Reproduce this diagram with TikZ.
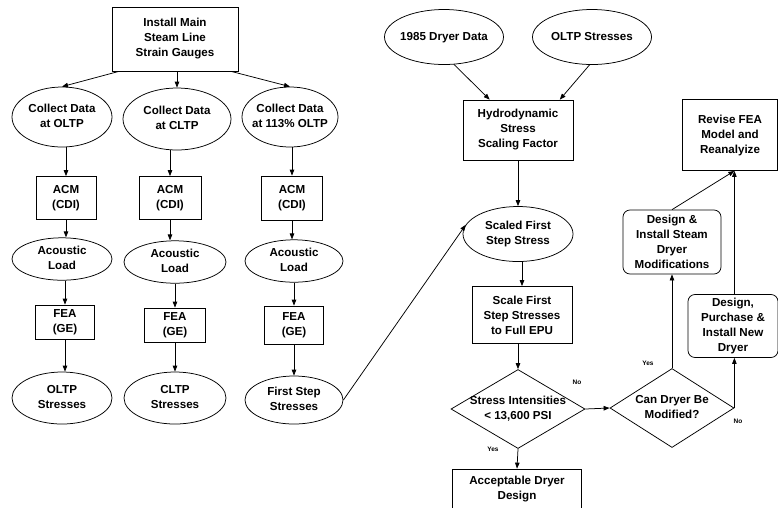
\documentclass[tikz,border=0pt]{standalone}
\usepackage{fontspec}
\setmainfont{Liberation Sans}
\usetikzlibrary{shapes.geometric,arrows.meta}

\newcommand{\flowfont}{\bfseries\fontsize{11.6}{15}\selectfont}
\newcommand{\tagfont}{\bfseries\fontsize{6.5}{7}\selectfont}
% text that may run over the outline
\newcommand{\spill}[1]{\makebox[0pt]{\begin{tabular}{@{}c@{}}#1\end{tabular}}}

\tikzset{
  box/.style={draw, rectangle, inner sep=0pt, align=center, font=\flowfont},
  rbox/.style={box, rounded corners=7pt},
  oval/.style={draw, ellipse, inner sep=0pt, align=center, font=\flowfont},
  decide/.style={draw, diamond, inner sep=0pt, align=center, font=\flowfont},
  flow/.style={-{Triangle[length=6pt,width=4.5pt]}},
  tag/.style={font=\tagfont, inner sep=0pt}
}

\begin{document}
\begin{tikzpicture}
    [x=1pt,y=-1pt,line width=0.75pt]
    \useasboundingbox (0,0) rectangle (778,507);

    % left: three load cases
    \node[box, minimum width=126, minimum height=64] (inst) at (175,39)
        {Install Main\\Steam Line\\Strain Gauges};

    \node[oval, minimum width=100, minimum height=60] (col1) at ( 62,117) {\spill{Collect Data\\at OLTP}};
    \node[oval, minimum width=108, minimum height=62] (col2) at (177,119) {\spill{Collect Data\\at CLTP}};
    \node[oval, minimum width=96,  minimum height=60] (col3) at (290,117) {\spill{Collect Data\\at 113\% OLTP}};

    \node[box, minimum width=60, minimum height=43] (acm1) at ( 66,198) {ACM\\(CDI)};
    \node[box, minimum width=62, minimum height=43] (acm2) at (170,198) {ACM\\(CDI)};
    \node[box, minimum width=61, minimum height=44] (acm3) at (292,198) {ACM\\(CDI)};

    \node[oval, minimum width=100, minimum height=41] (load1) at ( 62,259) {\spill{Acoustic\\Load}};
    \node[oval, minimum width=102, minimum height=41] (load2) at (175,262) {\spill{Acoustic\\Load}};
    \node[oval, minimum width=98,  minimum height=42] (load3) at (294,261) {\spill{Acoustic\\Load}};

    \node[box, minimum width=59, minimum height=34] (fea1) at ( 65,322) {FEA\\(GE)};
    \node[box, minimum width=61, minimum height=34] (fea2) at (175,325) {FEA\\(GE)};
    \node[box, minimum width=59, minimum height=38] (fea3) at (294,325) {FEA\\(GE)};

    \node[oval, minimum width=100, minimum height=52] (res1) at ( 62,398) {\spill{OLTP\\Stresses}};
    \node[oval, minimum width=102, minimum height=52] (res2) at (175,398) {\spill{CLTP\\Stresses}};
    \node[oval, minimum width=98,  minimum height=48] (res3) at (294,400) {\spill{First Step\\Stresses}};

    % right: scaling and evaluation
    \node[oval, minimum width=119, minimum height=55] (dry)  at (444,37) {\spill{1985 Dryer Data}};
    \node[oval, minimum width=119, minimum height=55] (olts) at (592,37) {\spill{OLTP Stresses}};
    \node[box, minimum width=110, minimum height=60] (hydro) at (518,130)
        {Hydrodynamic\\Stress\\Scaling Factor};
    \node[oval, minimum width=110, minimum height=55] (scaled) at (518,234) {\spill{Scaled First\\Step Stress}};
    \node[box, minimum width=100, minimum height=57] (scale) at (522,315)
        {Scale First\\Step Stresses\\to Full EPU};
    \node[decide, minimum width=134, minimum height=79] (stress) at (518,409)
        {\spill{Stress Intensities\\\textless{} 13,600 PSI}};
    \node[box, minimum width=129, minimum height=40] (accept) at (517,489)
        {Acceptable Dryer\\Design};
    \node[decide, minimum width=124, minimum height=79] (can) at (672,408)
        {\spill{Can Dryer Be\\Modified?}};
    \node[rbox, minimum width=98, minimum height=64] (modify) at (672,242)
        {Design \&\\Install Steam\\Dryer\\Modifications};
    \node[rbox, minimum width=90, minimum height=63] (newd) at (733,326)
        {Design,\\Purchase \&\\Install New\\Dryer};
    \node[box, minimum width=95, minimum height=71] (revise) at (730,135)
        {Revise FEA\\Model and\\Reanalyize};

    \coordinate (meet) at (can.east |- revise.south);

    \draw[flow] (inst.-150) -- (col1.north);
    \draw[flow] (inst.south -| col2.north) -- (col2.north);
    \draw[flow] (inst.-30) -- (col3.north);
    \foreach \i in {1,2,3} {
      \draw[flow] (col\i.south -| acm\i.north) -- (acm\i.north);
      \draw[flow] (acm\i.south) -- (acm\i.south |- load\i.north);
      \draw[flow] (load\i.south -| fea\i.north) -- (fea\i.north);
      \draw[flow] (fea\i.south) -- (fea\i.south |- res\i.north);
    }
    \draw[flow] (res3.east) -- (scaled.170);

    \draw[flow] (dry.-70) -- (hydro.133);
    \draw[flow] (olts.-95) -- (hydro.36);
    \draw[flow] (hydro.south) -- (scaled.north);
    \draw[flow] (scaled.south -| scale.north) -- (scale.north);
    \draw[flow] (scale.south -| stress.north) -- (stress.north);
    \draw[flow] (stress.south) -- (accept.north);
    \draw[flow] (stress.east) -- (can.west);
    \draw[flow] (can.north) -- (modify.south);
    \draw[flow] (can.east) -- (can.east |- newd.south);
    \draw[flow] (can.east |- newd.north) -- (meet);
    \draw[flow] (modify.north) -- (meet);

    \node[tag] (yes1) at (493,449) {Yes};
    \node[tag] (no1)  at (577,382) {No};
    \node[tag] (yes2) at (648,363) {Yes};
    \node[tag] (no2)  at (738,421) {No};
  \end{tikzpicture}
\end{document}
